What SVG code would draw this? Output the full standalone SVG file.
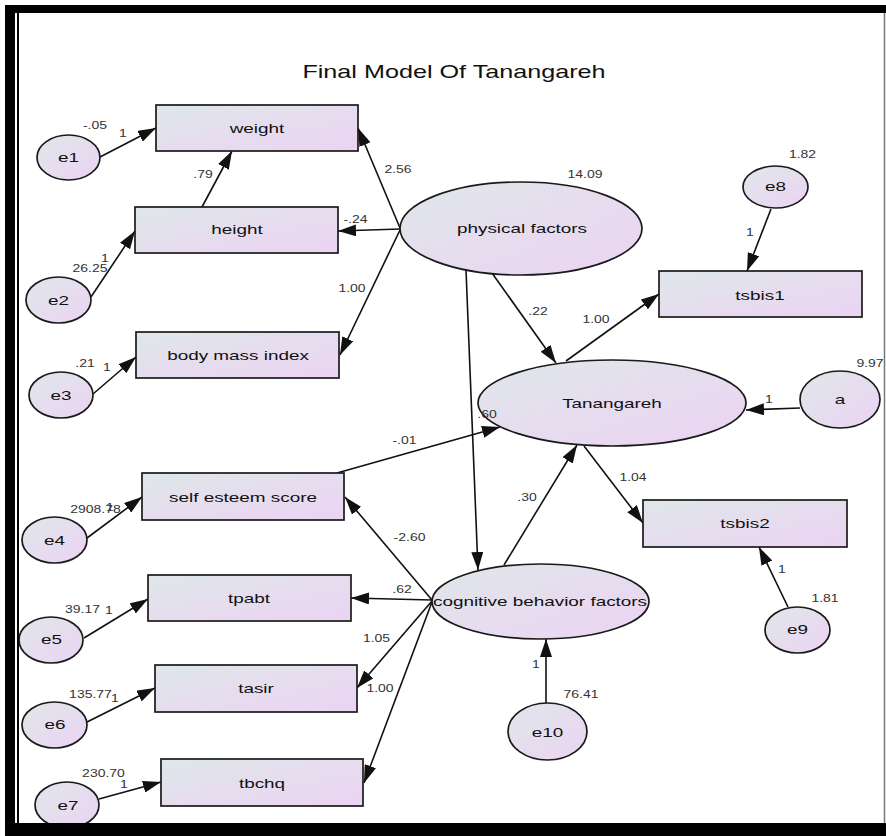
<svg xmlns="http://www.w3.org/2000/svg" width="886" height="836" viewBox="0 0 886 836">
<style>
.nd{fill:url(#g);stroke:#1a1a1a;stroke-width:1.7}
.ln{fill:none;stroke:#111;stroke-width:1.6;marker-end:url(#ah)}
text{font-family:"Liberation Sans",Arial,sans-serif;text-anchor:middle}
.lb{font-size:13.5px;fill:#111}
.nm{font-size:10px;fill:#333}
.tt{font-size:18px;fill:#111}
</style>
<defs>
<linearGradient id="g" x1="0" y1="0" x2="1" y2="1">
<stop offset="0" stop-color="#dfe7ea"/>
<stop offset="1" stop-color="#ecd3f3"/>
</linearGradient>
<marker id="ah" markerUnits="userSpaceOnUse" markerWidth="18" markerHeight="12" viewBox="0 0 18 12" refX="18" refY="6" orient="auto">
<path d="M0,0 L18,6 L0,12 z" fill="#111"/>
</marker>
</defs>
<rect width="886" height="836" fill="#fff"/>
<text class="tt" transform="matrix(1.4 0 0 1 454 78)">Final Model Of Tanangareh</text>
<g id="connectors">
<path class="ln" d="M100,157 L156,128"/>
<path class="ln" d="M202,207 L232,151"/>
<path class="ln" d="M400,228 L358,128"/>
<path class="ln" d="M400,229 L338,231"/>
<path class="ln" d="M400,230 L340,355"/>
<path class="ln" d="M91,297 L135,231"/>
<path class="ln" d="M93,394 L136,357"/>
<path class="ln" d="M492,273 L556,363"/>
<path class="ln" d="M466,270 L478,570"/>
<path class="ln" d="M771,209 L747,271"/>
<path class="ln" d="M566,361 L659,294"/>
<path class="ln" d="M800,408 L746,410"/>
<path class="ln" d="M337,473 L500,427"/>
<path class="ln" d="M504,565 L577,445"/>
<path class="ln" d="M584,446 L643,523"/>
<path class="ln" d="M788,607 L759,547"/>
<path class="ln" d="M546,703 L546,639"/>
<path class="ln" d="M432,600 L345,497"/>
<path class="ln" d="M432,600 L351,598"/>
<path class="ln" d="M432,601 L357,688"/>
<path class="ln" d="M432,602 L364,783"/>
<path class="ln" d="M87,538 L142,497"/>
<path class="ln" d="M84,638 L148,599"/>
<path class="ln" d="M87,722 L155,688"/>
<path class="ln" d="M99,799 L161,782"/>
</g>
<g id="weight"><rect class="nd" x="156" y="105" width="202" height="46"/><text class="lb" transform="matrix(1.4 0 0 1 257 133)">weight</text></g>
<g id="height"><rect class="nd" x="135" y="207" width="203" height="46"/><text class="lb" transform="matrix(1.4 0 0 1 237 234)">height</text></g>
<g id="bmi"><rect class="nd" x="136" y="332" width="203" height="46"/><text class="lb" transform="matrix(1.4 0 0 1 238 360)">body mass index</text></g>
<g id="selfesteem"><rect class="nd" x="142" y="473" width="202" height="47"/><text class="lb" transform="matrix(1.4 0 0 1 243 502)">self esteem score</text></g>
<g id="tpabt"><rect class="nd" x="148" y="575" width="203" height="46"/><text class="lb" transform="matrix(1.4 0 0 1 249 603)">tpabt</text></g>
<g id="tasir"><rect class="nd" x="155" y="665" width="202" height="47"/><text class="lb" transform="matrix(1.4 0 0 1 256 693)">tasir</text></g>
<g id="tbchq"><rect class="nd" x="161" y="759" width="202" height="47"/><text class="lb" transform="matrix(1.4 0 0 1 262 788)">tbchq</text></g>
<g id="tsbis1"><rect class="nd" x="659" y="271" width="203" height="46"/><text class="lb" transform="matrix(1.4 0 0 1 760 300)">tsbis1</text></g>
<g id="tsbis2"><rect class="nd" x="643" y="500" width="204" height="47"/><text class="lb" transform="matrix(1.4 0 0 1 745 528)">tsbis2</text></g>
<g id="physical"><ellipse class="nd" cx="521" cy="228.5" rx="121" ry="46.5"/><text class="lb" transform="matrix(1.4 0 0 1 522 233)">physical factors</text></g>
<g id="tanangareh"><ellipse class="nd" cx="612" cy="403" rx="134" ry="43"/><text class="lb" transform="matrix(1.4 0 0 1 612 408)">Tanangareh</text></g>
<g id="cognitive"><ellipse class="nd" cx="540.5" cy="601.5" rx="108.5" ry="37.5"/><text class="lb" transform="matrix(1.4 0 0 1 540 606)">cognitive behavior factors</text></g>
<g id="e1"><ellipse class="nd" cx="68.5" cy="157.5" rx="31.5" ry="22.5"/><text class="lb" transform="matrix(1.4 0 0 1 68.5 162)">e1</text></g>
<g id="e2"><ellipse class="nd" cx="58.5" cy="300" rx="32.5" ry="23"/><text class="lb" transform="matrix(1.4 0 0 1 58.5 305)">e2</text></g>
<g id="e3"><ellipse class="nd" cx="61" cy="395" rx="32" ry="23"/><text class="lb" transform="matrix(1.4 0 0 1 61 400)">e3</text></g>
<g id="e4"><ellipse class="nd" cx="54.5" cy="540" rx="32.5" ry="23"/><text class="lb" transform="matrix(1.4 0 0 1 54.5 545)">e4</text></g>
<g id="e5"><ellipse class="nd" cx="51" cy="640" rx="32" ry="23"/><text class="lb" transform="matrix(1.4 0 0 1 51.5 644)">e5</text></g>
<g id="e6"><ellipse class="nd" cx="54.5" cy="725" rx="32.5" ry="23"/><text class="lb" transform="matrix(1.4 0 0 1 55 729)">e6</text></g>
<g id="e7"><ellipse class="nd" cx="67" cy="805" rx="32" ry="23"/><text class="lb" transform="matrix(1.4 0 0 1 68 810)">e7</text></g>
<g id="e8"><ellipse class="nd" cx="775.5" cy="187" rx="32.5" ry="21"/><text class="lb" transform="matrix(1.4 0 0 1 775.5 191)">e8</text></g>
<g id="e9"><ellipse class="nd" cx="797.5" cy="630" rx="32.5" ry="23"/><text class="lb" transform="matrix(1.4 0 0 1 797.5 634)">e9</text></g>
<g id="e10"><ellipse class="nd" cx="547.5" cy="731.5" rx="39.5" ry="28.5"/><text class="lb" transform="matrix(1.4 0 0 1 547.5 737)">e10</text></g>
<g id="a"><ellipse class="nd" cx="840" cy="399.5" rx="40" ry="28.5"/><text class="lb" transform="matrix(1.4 0 0 1 840 404)">a</text></g>
<g id="labels">
<text class="nm" transform="matrix(1.4 0 0 1 95 129)">-.05</text>
<text class="nm" transform="matrix(1.4 0 0 1 123 137)">1</text>
<text class="nm" transform="matrix(1.4 0 0 1 203 178)">.79</text>
<text class="nm" transform="matrix(1.4 0 0 1 398 173)">2.56</text>
<text class="nm" transform="matrix(1.4 0 0 1 355.5 223)">-.24</text>
<text class="nm" transform="matrix(1.4 0 0 1 585 178)">14.09</text>
<text class="nm" transform="matrix(1.4 0 0 1 802.5 158)">1.82</text>
<text class="nm" transform="matrix(1.4 0 0 1 750 236)">1</text>
<text class="nm" transform="matrix(1.4 0 0 1 538 315)">.22</text>
<text class="nm" transform="matrix(1.4 0 0 1 596 323)">1.00</text>
<text class="nm" transform="matrix(1.4 0 0 1 870 367)">9.97</text>
<text class="nm" transform="matrix(1.4 0 0 1 769 403)">1</text>
<text class="nm" transform="matrix(1.4 0 0 1 487 418)">.60</text>
<text class="nm" transform="matrix(1.4 0 0 1 404.5 444)">-.01</text>
<text class="nm" transform="matrix(1.4 0 0 1 527 501)">.30</text>
<text class="nm" transform="matrix(1.4 0 0 1 633 481)">1.04</text>
<text class="nm" transform="matrix(1.4 0 0 1 825 602)">1.81</text>
<text class="nm" transform="matrix(1.4 0 0 1 782 573)">1</text>
<text class="nm" transform="matrix(1.4 0 0 1 581 698)">76.41</text>
<text class="nm" transform="matrix(1.4 0 0 1 536 668)">1</text>
<text class="nm" transform="matrix(1.4 0 0 1 90 272)">26.25</text>
<text class="nm" transform="matrix(1.4 0 0 1 105 262)">1</text>
<text class="nm" transform="matrix(1.4 0 0 1 352 292)">1.00</text>
<text class="nm" transform="matrix(1.4 0 0 1 85 367)">.21</text>
<text class="nm" transform="matrix(1.4 0 0 1 107 371)">1</text>
<text class="nm" transform="matrix(1.4 0 0 1 95.5 513)">2908.78</text>
<text class="nm" transform="matrix(1.4 0 0 1 110 511)">1</text>
<text class="nm" transform="matrix(1.4 0 0 1 409.5 541)">-2.60</text>
<text class="nm" transform="matrix(1.4 0 0 1 402 593)">.62</text>
<text class="nm" transform="matrix(1.4 0 0 1 82.5 613)">39.17</text>
<text class="nm" transform="matrix(1.4 0 0 1 109 614)">1</text>
<text class="nm" transform="matrix(1.4 0 0 1 376.5 642)">1.05</text>
<text class="nm" transform="matrix(1.4 0 0 1 380 692)">1.00</text>
<text class="nm" transform="matrix(1.4 0 0 1 90.5 698)">135.77</text>
<text class="nm" transform="matrix(1.4 0 0 1 115 702)">1</text>
<text class="nm" transform="matrix(1.4 0 0 1 103.5 777)">230.70</text>
<text class="nm" transform="matrix(1.4 0 0 1 124 788)">1</text>
</g>
<g id="frame">
<rect x="5" y="5" width="881" height="8" fill="#000"/>
<rect x="5" y="5" width="10" height="831" fill="#000"/>
<line x1="18" y1="13" x2="18" y2="823" stroke="#000" stroke-width="2"/>
<line x1="884.5" y1="13" x2="884.5" y2="823" stroke="#777" stroke-width="1.5"/>
<rect x="5" y="823" width="881" height="13" fill="#000"/>
</g>
</svg>
